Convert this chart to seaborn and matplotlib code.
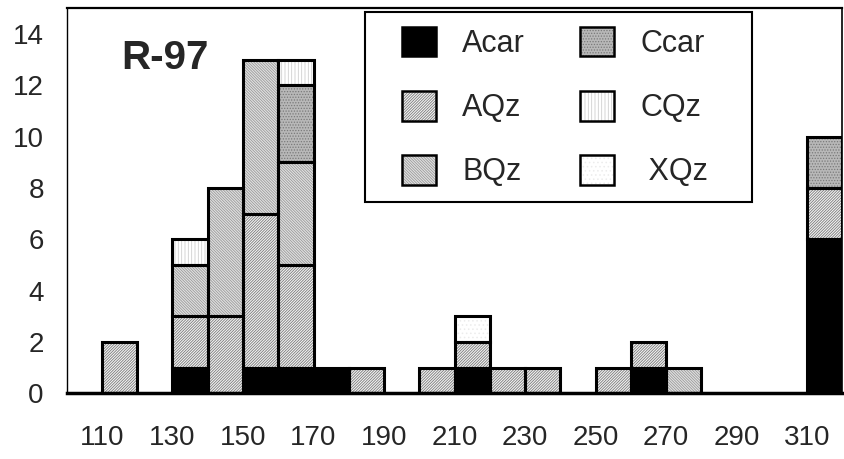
import numpy as np
import pandas as pd
import matplotlib
matplotlib.use("Agg")
import matplotlib.pyplot as plt
from matplotlib.patches import Patch, Rectangle
from matplotlib.colors import to_rgb
import seaborn as sns

# ---- data ----
bin_left = [110, 130, 140, 150, 160, 170, 180, 200, 210, 220, 230, 250, 260, 270, 310]
acar = [0, 1, 0, 1, 1, 1, 0, 0, 1, 0, 0, 0, 1, 0, 6]
aqz  = [2, 2, 3, 6, 4, 0, 1, 1, 1, 1, 1, 1, 1, 0, 2]
bqz  = [0, 2, 5, 6, 4, 0, 0, 0, 0, 0, 0, 0, 0, 1, 0]
ccar = [0, 0, 0, 0, 3, 0, 0, 0, 0, 0, 0, 0, 0, 0, 2]
cqz  = [0, 1, 0, 0, 1, 0, 0, 0, 0, 0, 0, 0, 0, 0, 0]
xqz  = [0, 0, 0, 0, 0, 0, 0, 0, 1, 0, 0, 0, 0, 0, 0]
components = ["Acar", "AQz", "BQz", "Ccar", "CQz", "XQz"]
legend_labels = ["Acar", "AQz", "BQz", "Ccar", "CQz", " XQz"]
counts = {"Acar": acar, "AQz": aqz, "BQz": bqz, "Ccar": ccar, "CQz": cqz, "XQz": xqz}
x_tick_labels = ["110", "130", "150", "170", "190", "210", "230", "250", "270", "290", "310"]
y_tick_labels = ["0", "2", "4", "6", "8", "10", "12", "14"]
title_text = "R-97"

rows = []
for comp in components:
    for b, c in zip(bin_left, counts[comp]):
        rows.append({"size": b + 5, "component": comp, "n": c})
df = pd.DataFrame(rows)

# styles: (face, hatch, hatch colour)
styles = {
    "Acar": ("#000000", None, "#000000"),
    "AQz":  ("#f4f4f4", "/" * 12, "#7a7a7a"),
    "BQz":  ("#e2e2e2", "\\" * 12, "#9a9a9a"),
    "Ccar": ("#b8b8b8", "." * 6, "#7a7a7a"),
    "CQz":  ("#ffffff", "|" * 5, "#cfcfcf"),
    "XQz":  ("#ffffff", "." * 4, "#ececec"),
}
key_colors = {"Acar": "#ff0000", "AQz": "#00ff00", "BQz": "#0000ff",
              "Ccar": "#ffff00", "CQz": "#00ffff", "XQz": "#ff00ff"}

sns.set_style("white")
plt.rcParams["font.family"] = ["Liberation Sans", "DejaVu Sans"]
plt.rcParams["hatch.linewidth"] = 0.6

fig = plt.figure(figsize=(8.45, 4.59), dpi=100)
ax = fig.add_axes([66.7 / 845, 1 - 393.3 / 459, (842.5 - 66.7) / 845, (393.3 - 8.3) / 459])

sns.histplot(data=df, x="size", weights="n", hue="component",
             hue_order=components[::-1], multiple="stack",
             binwidth=10, binrange=(100, 320), palette=key_colors,
             legend=False, ax=ax, alpha=1, linewidth=0)

rgb_to_comp = {tuple(np.round(to_rgb(c), 3)): k for k, c in key_colors.items()}
for p in list(ax.patches):
    comp = rgb_to_comp.get(tuple(np.round(p.get_facecolor()[:3], 3)))
    if comp is None:
        continue
    if p.get_height() <= 0:
        p.set_visible(False)
        continue
    face, hatch, hc = styles[comp]
    p.set_facecolor(face)
    p.set_edgecolor(hc)
    p.set_linewidth(0)
    p.set_hatch(hatch)
    ax.add_patch(Rectangle(p.get_xy(), p.get_width(), p.get_height(),
                           fill=False, edgecolor="black", linewidth=2.2, zorder=3))

ax.set_xlim(100, 320)
ax.set_ylim(0, 15)
ax.set_xticks([int(t) for t in x_tick_labels])
ax.set_xticklabels(x_tick_labels)
ax.set_xticks(np.arange(100, 321, 20), minor=True)
ax.set_yticks([int(t) for t in y_tick_labels])
ax.set_yticklabels(y_tick_labels)
ax.set_yticks(np.arange(1, 15, 2), minor=True)
ax.tick_params(axis="x", which="both", direction="out", length=11, width=1,
               labelsize=20, pad=12, color="black")
ax.tick_params(axis="y", which="major", direction="out", length=13, width=1,
               labelsize=20, pad=3.5, color="black")
ax.tick_params(axis="y", which="minor", direction="out", length=6, width=1, color="black")
ax.set_xlabel("")
ax.set_ylabel("")

for side in ["left", "top", "right", "bottom"]:
    ax.spines[side].set_visible(True)
    ax.spines[side].set_color("black")
ax.spines["left"].set_linewidth(1)
ax.spines["right"].set_linewidth(1.2)
ax.spines["top"].set_linewidth(1.6)
ax.spines["bottom"].set_linewidth(2.5)

ax.text(121 / 845, 1 - 58 / 459, title_text, transform=fig.transFigure,
        fontsize=29, fontweight="bold", va="center", ha="left")

# legend frame
fig.add_artist(Rectangle((365 / 845, 1 - 201.7 / 459), (752 - 365) / 845, (201.7 - 11.7) / 459,
                         transform=fig.transFigure, facecolor="white",
                         edgecolor="black", linewidth=1.5, zorder=4))
handles = []
for comp in components:
    face, hatch, hc = styles[comp]
    fillp = Patch(facecolor=face, edgecolor=hc, hatch=hatch, linewidth=0)
    edgep = Patch(facecolor="none", edgecolor="black", linewidth=1.8)
    handles.append((fillp, edgep))
leg = fig.legend(handles, legend_labels, ncol=2, loc="upper left",
                 bbox_to_anchor=(402 / 845, 1 - 26.5 / 459),
                 fontsize=22, frameon=False,
                 handlelength=1.12, handleheight=1.12, labelspacing=1.05,
                 handletextpad=0.85, columnspacing=1.8, borderpad=0,
                 borderaxespad=0)
leg.set_zorder(5)

fig.savefig("out.png", dpi=100)
